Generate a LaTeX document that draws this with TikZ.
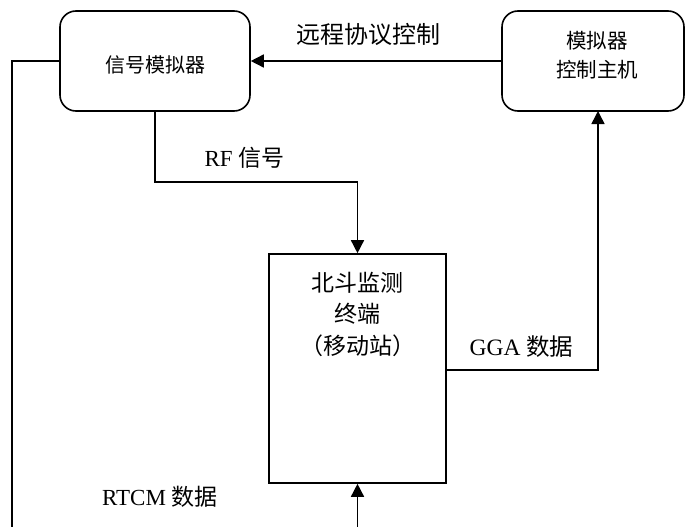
\documentclass[tikz,border=0pt]{standalone}
\usepackage{fontspec}
\setmainfont{Liberation Serif}
\newfontfamily\cjk{Noto Sans CJK SC}
\usetikzlibrary{arrows.meta}
\begin{document}
\begin{tikzpicture}[x=1pt,y=-1pt,
  conn/.style={line width=1.5pt,-{Triangle[length=13pt,width=13pt]}},
  roundbox/.style={draw,line width=1.6pt,rounded corners=16pt,inner sep=0pt},
  sqbox/.style={draw,line width=1.6pt,inner sep=0pt},
  lbl/.style={inner sep=0pt,font=\fontsize{23}{27}\selectfont}]
\useasboundingbox (0,0) rectangle (686,527);
\clip (0,0) rectangle (686,527);
% boxes
\node[roundbox,minimum width=190pt,minimum height=100pt] (sim) at (155,61) {};
\node[roundbox,minimum width=182pt,minimum height=100pt] (host) at (593,61) {};
\node[sqbox,minimum width=177pt,minimum height=229pt] (term) at (357.5,368.5) {};
% box texts
\node[inner sep=0pt,font=\fontsize{20}{24}\selectfont\cjk] (simt) at (155,65) {信号模拟器};
\node[inner sep=0pt,align=center,font=\fontsize{20.5}{29}\selectfont\cjk] (hostt) at (597,55) {模拟器\\控制主机};
\node[inner sep=0pt,align=center,font=\fontsize{23}{31.5}\selectfont\cjk] (termt) at (357.5,314) {北斗监测\\终端\\（移动站）};
% labels
\node[lbl,font=\fontsize{24}{28}\selectfont] (l1) at (368,34) {\cjk 远程协议控制};
\node[lbl] (l2) at (244.5,158) {RF {\cjk 信号}};
\node[lbl,font=\fontsize{23.5}{28}\selectfont] (l3) at (521.5,347) {GGA {\cjk 数据}};
\node[lbl] (l4) at (160,497) {RTCM {\cjk 数据}};
% connectors
\draw[conn] (host.west) -- (sim.east);
\coordinate (rfbend) at (155,182);
\draw[conn] (sim.south) -- (rfbend) -| (term.north);
\coordinate (ggaup) at (598,111);
\draw[conn] ([yshift=-1.5pt]term.east) -| (ggaup);
\coordinate (bl) at (12,600);
\draw[conn] (sim.west) -| (bl) -| (term.south);
\end{tikzpicture}
\end{document}
